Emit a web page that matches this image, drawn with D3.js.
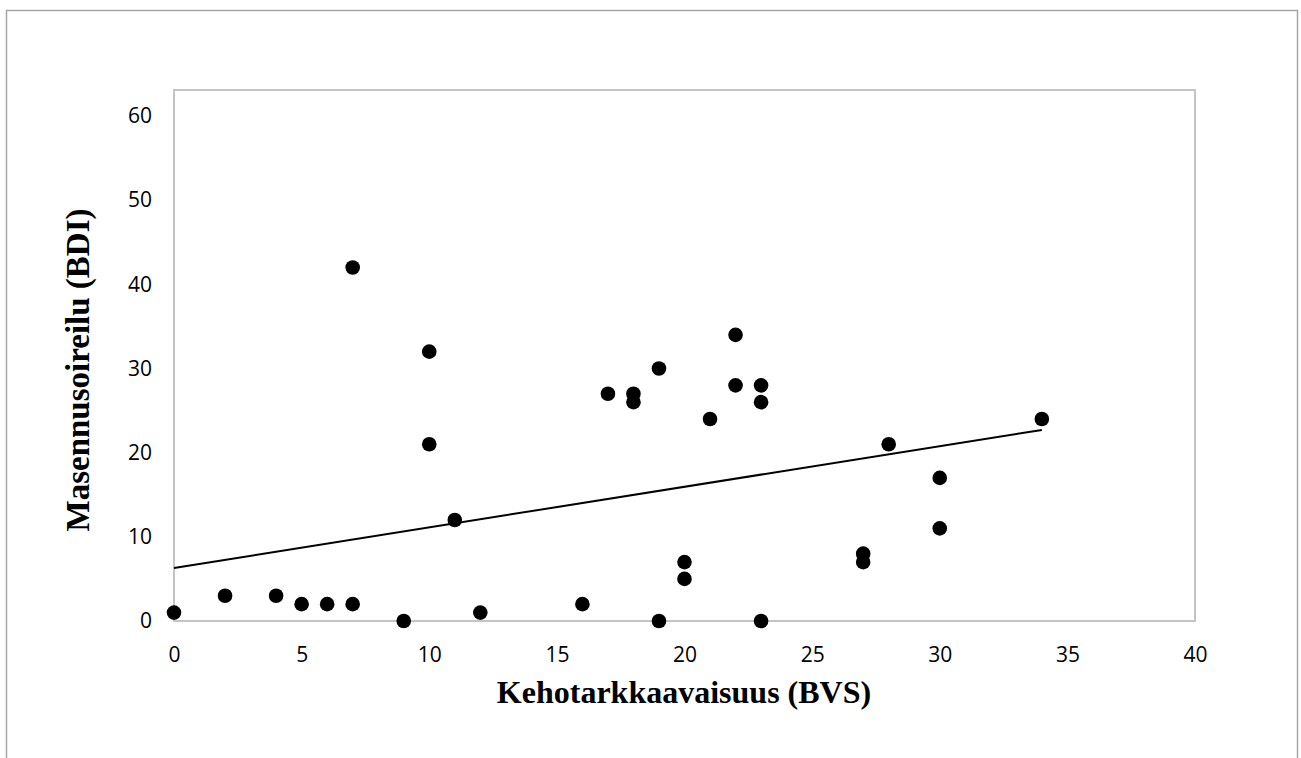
<!DOCTYPE html>
<html>
<head>
<meta charset="utf-8">
<script src="https://cdn.jsdelivr.net/npm/d3@7/dist/d3.min.js"></script>
<style>
  html, body { margin: 0; padding: 0; background: #fff; }
  svg { display: block; }
</style>
</head>
<body>
<svg id="chart" width="1301" height="758"></svg>
<script>
// Data
const bvs = [0, 2, 4, 5, 6, 7, 7, 9, 10, 10, 11, 12, 16, 17, 18, 18, 19, 19, 20, 20, 21, 22, 22, 23, 23, 23, 27, 27, 28, 30, 30, 34];
const bdi = [1, 3, 3, 2, 2, 2, 42, 0, 32, 21, 12, 1, 2, 27, 27, 26, 30, 0, 7, 5, 24, 34, 28, 28, 26, 0, 8, 7, 21, 17, 11, 24];
const trendX = [0, 34];
const trendY = [6.3, 22.7];
const xTicks = [0, 5, 10, 15, 20, 25, 30, 35, 40];
const yTicks = [0, 10, 20, 30, 40, 50, 60];
const xTitle = "Kehotarkkaavaisuus (BVS)";
const yTitle = "Masennusoireilu (BDI)";

const svg = d3.select("#chart");

// Outer chart border
svg.append("rect")
  .attr("x", 6.5).attr("y", 10.5)
  .attr("width", 1291).attr("height", 800)
  .attr("fill", "none").attr("stroke", "#a6a6a6").attr("stroke-width", 1.5);

const x = d3.scaleLinear().domain([0, 40]).range([174, 1195]);
const y = d3.scaleLinear().domain([0, 60]).range([621, 116]);

// Plot area frame
const plotTop = 90;
svg.append("rect")
  .attr("x", x(0)).attr("y", plotTop)
  .attr("width", x(40) - x(0)).attr("height", y(0) - plotTop)
  .attr("fill", "none").attr("stroke", "#c4c4c4").attr("stroke-width", 2);

const tickFont = "'Open Sans', sans-serif";

// Axes (labels only)
const xAxis = d3.axisBottom(x).tickValues(xTicks).tickSize(0).tickPadding(26);
const gx = svg.append("g").attr("transform", `translate(0,${y(0)})`).call(xAxis);
gx.select(".domain").remove();
gx.selectAll("text").attr("font-family", tickFont).attr("font-size", 21).attr("fill", "#000");

const yAxis = d3.axisLeft(y).tickValues(yTicks).tickSize(0).tickPadding(22);
const gy = svg.append("g").attr("transform", `translate(${x(0)},0)`).call(yAxis);
gy.select(".domain").remove();
gy.selectAll("text").attr("font-family", tickFont).attr("font-size", 21).attr("fill", "#000");

// Trendline
const pts = trendX.map((v, i) => [v, trendY[i]]);
svg.append("path")
  .attr("d", d3.line().x(d => x(d[0])).y(d => y(d[1]))(pts))
  .attr("stroke", "#000").attr("stroke-width", 2).attr("fill", "none");

// Points
svg.append("g").selectAll("circle")
  .data(bvs.map((v, i) => [v, bdi[i]]))
  .join("circle")
  .attr("cx", d => x(d[0])).attr("cy", d => y(d[1]))
  .attr("r", 7.3).attr("fill", "#000");

// Titles
svg.append("text")
  .attr("x", 684).attr("y", 703)
  .attr("text-anchor", "middle")
  .attr("font-family", "'Liberation Serif', 'Times New Roman', serif")
  .attr("font-weight", "bold").attr("font-size", 32)
  .text(xTitle);

svg.append("text")
  .attr("transform", "translate(89,370) rotate(-90)")
  .attr("text-anchor", "middle")
  .attr("font-family", "'Liberation Serif', 'Times New Roman', serif")
  .attr("font-weight", "bold").attr("font-size", 33)
  .text(yTitle);
</script>
</body>
</html>
